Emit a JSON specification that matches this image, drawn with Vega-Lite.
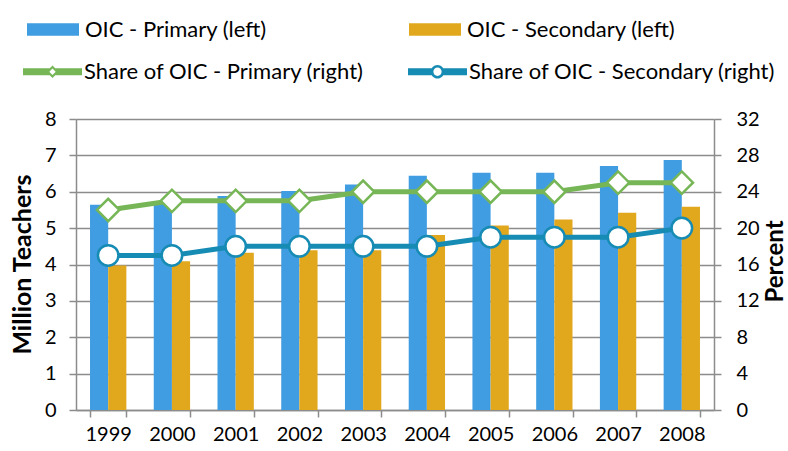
{
  "$schema": "https://vega.github.io/schema/vega-lite/v6.json",
  "width": 638,
  "height": 291,
  "autosize": {"type": "none"},
  "padding": {"left": 76, "top": 119, "right": 74, "bottom": 41},
  "background": "white",
  "config": {
    "view": {"stroke": null},
    "font": "Lato",
    "axis": {
      "domainColor": "#8c8c8c",
      "domainWidth": 1.5,
      "tickColor": "#8c8c8c",
      "tickWidth": 1.5,
      "tickSize": 7,
      "labelFontSize": 20,
      "labelColor": "black",
      "titleColor": "black",
      "titleFontSize": 25,
      "titleFontWeight": "bold"
    },
    "legend": {
      "labelFontSize": 22,
      "labelColor": "black",
      "labelFont": "Lato",
      "labelLimit": 500
    }
  },
  "datasets": {
    "teachers": [
      {"year": "1999", "series": "OIC - Primary (left)", "value": 5.64},
      {"year": "2000", "series": "OIC - Primary (left)", "value": 5.67},
      {"year": "2001", "series": "OIC - Primary (left)", "value": 5.88},
      {"year": "2002", "series": "OIC - Primary (left)", "value": 6.02},
      {"year": "2003", "series": "OIC - Primary (left)", "value": 6.2},
      {"year": "2004", "series": "OIC - Primary (left)", "value": 6.44},
      {"year": "2005", "series": "OIC - Primary (left)", "value": 6.52},
      {"year": "2006", "series": "OIC - Primary (left)", "value": 6.52},
      {"year": "2007", "series": "OIC - Primary (left)", "value": 6.71},
      {"year": "2008", "series": "OIC - Primary (left)", "value": 6.87},
      {"year": "1999", "series": "OIC - Secondary (left)", "value": 3.97},
      {"year": "2000", "series": "OIC - Secondary (left)", "value": 4.09},
      {"year": "2001", "series": "OIC - Secondary (left)", "value": 4.32},
      {"year": "2002", "series": "OIC - Secondary (left)", "value": 4.39},
      {"year": "2003", "series": "OIC - Secondary (left)", "value": 4.39},
      {"year": "2004", "series": "OIC - Secondary (left)", "value": 4.81},
      {"year": "2005", "series": "OIC - Secondary (left)", "value": 5.07},
      {"year": "2006", "series": "OIC - Secondary (left)", "value": 5.24},
      {"year": "2007", "series": "OIC - Secondary (left)", "value": 5.42},
      {"year": "2008", "series": "OIC - Secondary (left)", "value": 5.59}
    ],
    "shares": [
      {"year": "1999", "series": "Share of OIC - Primary (right)", "value": 22},
      {"year": "2000", "series": "Share of OIC - Primary (right)", "value": 23},
      {"year": "2001", "series": "Share of OIC - Primary (right)", "value": 23},
      {"year": "2002", "series": "Share of OIC - Primary (right)", "value": 23},
      {"year": "2003", "series": "Share of OIC - Primary (right)", "value": 24},
      {"year": "2004", "series": "Share of OIC - Primary (right)", "value": 24},
      {"year": "2005", "series": "Share of OIC - Primary (right)", "value": 24},
      {"year": "2006", "series": "Share of OIC - Primary (right)", "value": 24},
      {"year": "2007", "series": "Share of OIC - Primary (right)", "value": 25},
      {"year": "2008", "series": "Share of OIC - Primary (right)", "value": 25},
      {"year": "1999", "series": "Share of OIC - Secondary (right)", "value": 17},
      {"year": "2000", "series": "Share of OIC - Secondary (right)", "value": 17},
      {"year": "2001", "series": "Share of OIC - Secondary (right)", "value": 18},
      {"year": "2002", "series": "Share of OIC - Secondary (right)", "value": 18},
      {"year": "2003", "series": "Share of OIC - Secondary (right)", "value": 18},
      {"year": "2004", "series": "Share of OIC - Secondary (right)", "value": 18},
      {"year": "2005", "series": "Share of OIC - Secondary (right)", "value": 19},
      {"year": "2006", "series": "Share of OIC - Secondary (right)", "value": 19},
      {"year": "2007", "series": "Share of OIC - Secondary (right)", "value": 19},
      {"year": "2008", "series": "Share of OIC - Secondary (right)", "value": 20}
    ]
  },
  "layer": [
    {
      "data": {"name": "teachers"},
      "mark": {"type": "bar"},
      "encoding": {
        "x": {
          "field": "year",
          "type": "ordinal",
          "scale": {"paddingInner": 0.43, "paddingOuter": 0.22},
          "axis": {
            "title": null,
            "labelAngle": 0,
            "tickBand": "extent",
            "labelPadding": 7,
            "grid": false
          }
        },
        "xOffset": {
          "field": "series",
          "type": "nominal",
          "scale": {"domain": ["OIC - Primary (left)", "OIC - Secondary (left)"], "paddingInner": 0, "paddingOuter": 0}
        },
        "y": {
          "field": "value",
          "type": "quantitative",
          "scale": {"domain": [0, 8], "nice": false},
          "axis": {
            "orient": "left",
            "values": [0, 1, 2, 3, 4, 5, 6, 7, 8],
            "title": "Million Teachers",
            "titleAngle": 270,
            "titleX": -54,
            "titleY": 145,
            "titleAlign": "center",
            "titleBaseline": "middle",
            "grid": true,
            "gridColor": "#8c8c8c",
            "gridWidth": 1.3,
            "labelPadding": 13
          }
        },
        "fill": {
          "field": "series",
          "type": "nominal",
          "scale": {
            "domain": ["OIC - Primary (left)", "OIC - Secondary (left)"],
            "range": ["#419DE1", "#E1A81E"]
          },
          "legend": {
            "orient": "none",
            "legendX": -49,
            "legendY": -115.5,
            "direction": "horizontal",
            "columns": 2,
            "title": null,
            "padding": 0,
            "symbolType": "M-1,-0.24H1V0.24H-1Z",
            "symbolSize": 2704,
            "symbolStrokeWidth": 0,
            "symbolOpacity": 1,
            "labelOffset": 6,
            "columnPadding": 142
          }
        }
      }
    },
    {
      "data": {"name": "shares"},
      "encoding": {
        "x": {"field": "year", "type": "ordinal"},
        "y": {
          "field": "value",
          "type": "quantitative",
          "scale": {"domain": [0, 32], "nice": false},
          "axis": {
            "orient": "right",
            "values": [0, 4, 8, 12, 16, 20, 24, 28, 32],
            "title": "Percent",
            "titleFontSize": 24,
            "titleAngle": 270,
            "titleX": 61,
            "titleY": 142,
            "titleAlign": "center",
            "titleBaseline": "middle",
            "grid": false,
            "labelPadding": 15
          }
        }
      },
      "layer": [
        {
          "mark": {"type": "line", "strokeWidth": 5},
          "encoding": {
            "stroke": {
              "field": "series",
              "type": "nominal",
              "scale": {
                "domain": ["Share of OIC - Primary (right)", "Share of OIC - Secondary (right)"],
                "range": ["#76B656", "#168BB4"]
              },
              "legend": {
                "orient": "none",
                "legendX": -53,
                "legendY": -77,
                "direction": "horizontal",
                "columns": 2,
                "title": null,
                "padding": 0,
                "symbolSize": 3481,
                "symbolStrokeWidth": 0,
                "labelOffset": 2,
                "columnPadding": 44,
                "encode": {
                  "symbols": {
                    "update": {
                      "fill": {"scale": "stroke", "field": "value"},
                      "stroke": {"value": "transparent"},
                      "opacity": {"value": 1},
                      "shape": [
                        {"test": "datum.value === 'Share of OIC - Primary (right)'", "value": "M-1,-0.12H-0.1V0.12H-1Z M0.1,-0.12H1V0.12H0.1Z M0,-0.21L0.21,0L0,0.21L-0.21,0Z M0,-0.11L-0.11,0L0,0.11L0.11,0Z"},
                        {"value": "M-1,-0.12H-0.18V0.12H-1Z M0.18,-0.12H1V0.12H0.18Z M0.23,0A0.23,0.23 0 1,1 -0.23,0A0.23,0.23 0 1,1 0.23,0Z M0.14,0A0.14,0.14 0 1,0 -0.14,0A0.14,0.14 0 1,0 0.14,0Z"}
                      ]
                    }
                  }
                }
              }
            }
          }
        },
        {
          "transform": [{"filter": "datum.series === 'Share of OIC - Primary (right)'"}],
          "mark": {"type": "point", "shape": "diamond", "filled": true, "fill": "white", "stroke": "#76B656", "strokeWidth": 2.5, "size": 500, "opacity": 1}
        },
        {
          "transform": [{"filter": "datum.series === 'Share of OIC - Secondary (right)'"}],
          "mark": {"type": "point", "shape": "circle", "filled": true, "fill": "white", "stroke": "#168BB4", "strokeWidth": 2.5, "size": 420, "opacity": 1}
        }
      ]
    }
  ],
  "resolve": {"scale": {"y": "independent"}}
}
